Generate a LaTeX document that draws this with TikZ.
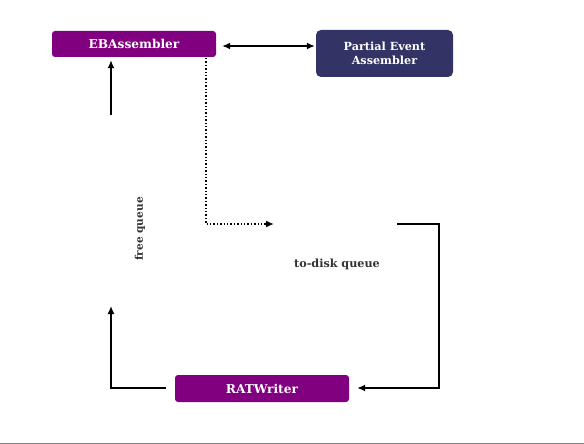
\documentclass[tikz,border=0pt]{standalone}
\usepackage{fontspec}
\setmainfont{DejaVu Serif}
\usetikzlibrary{arrows.meta}
\definecolor{ebpurple}{HTML}{800080}
\definecolor{pnavy}{HTML}{333366}
\tikzset{
  procbox/.style={draw=none, fill=ebpurple, rounded corners=3pt, text=white, font=\bfseries\fontsize{12.2}{14}\selectfont, inner sep=0pt},
  navybox/.style={draw=none, fill=pnavy, rounded corners=5pt, text=white, font=\bfseries\fontsize{11.2}{14}\selectfont, inner sep=0pt, align=center},
  conn/.style={line width=1.4pt, -{Latex[length=8pt,width=7pt]}},
  lbl/.style={font=\bfseries\fontsize{11.2}{13}\selectfont, text=black!80},
}
\begin{document}
\begin{tikzpicture}[x=1pt,y=-1pt]
\useasboundingbox (0,0) rectangle (584,444);
\draw[gray, line width=1pt] (0,443) -- (584,443);
\node[procbox, minimum width=164pt, minimum height=26pt] (eb) at (134,44) {EBAssembler};
\node[navybox, minimum width=137pt, minimum height=47pt] (pea) at (384.5,53.5) {Partial Event\\Assembler};
\node[procbox, minimum width=174pt, minimum height=27pt] (rat) at (262,388.5) {RATWriter};
\node[lbl] (tdq) at (337,264) {to-disk queue};
\node[lbl, font=\bfseries\fontsize{10.6}{12}\selectfont, rotate=90] (fq) at (140,229) {free queue};
\coordinate (fqtop) at (111,115);
\coordinate (dtop) at (206,58);
\coordinate (dcorner) at (206,224);
\coordinate (dend) at (274,224);
\coordinate (rstart) at (397,224);
\coordinate (rcorner) at (439,224);
\coordinate (rcorner2) at (439,388);
\coordinate (lstart) at (166,388);
\coordinate (lcorner) at (111,388);
\coordinate (lend) at (111,306);
\draw[conn, {Latex[length=8pt,width=7pt]}-{Latex[length=8pt,width=7pt]}] ([xshift=6pt]eb.east |- 0,46) -- ([xshift=-1pt]pea.west |- 0,46);
\draw[conn] (fqtop) -- ([yshift=-3pt]eb.south -| fqtop);
\draw[conn, dotted, line width=2pt] (dtop) -- (dcorner) -- (dend);
\draw[conn] (rstart) -- (rcorner) -- (rcorner2) -- ([xshift=8pt]rat.east |- rcorner2);
\draw[conn] (lstart) -- (lcorner) -- (lend);
\end{tikzpicture}
\end{document}
